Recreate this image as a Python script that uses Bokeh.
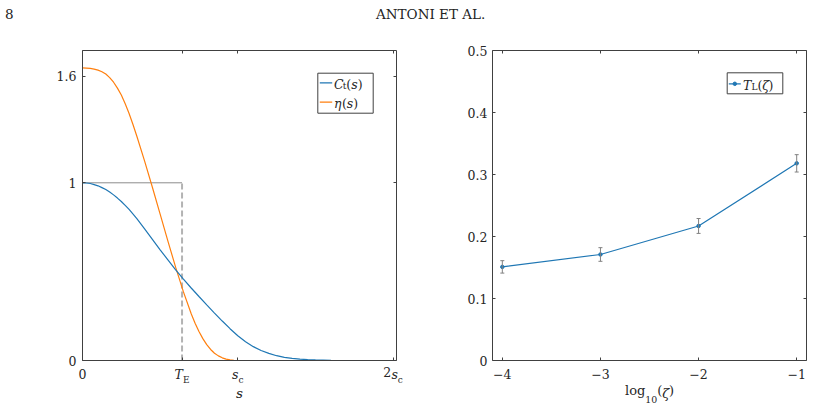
from bokeh.plotting import figure
from bokeh.models import (FixedTicker, LinearAxis, Range1d, Label, BoxAnnotation, Div,
                          ColumnDataSource, Whisker, TeeHead)
from bokeh.layouts import column, row
from bokeh.embed import file_html
from bokeh.resources import INLINE

# ---------------- data (left panel, s in units of s_c) ----------------
s_eta = [0.0, 0.05, 0.075, 0.1, 0.125, 0.15, 0.175, 0.2, 0.225, 0.25, 0.275, 0.3, 0.325,
         0.35, 0.4, 0.45, 0.5, 0.55, 0.6, 0.65, 0.7, 0.725, 0.75, 0.775, 0.8, 0.825, 0.85,
         0.875, 0.9, 0.925, 0.95, 0.975, 1.0, 1.5, 2.0]
eta = [1.647, 1.644, 1.640, 1.634, 1.625, 1.612, 1.592, 1.566, 1.533, 1.494, 1.445, 1.390,
       1.328, 1.262, 1.122, 0.975, 0.824, 0.672, 0.524, 0.386, 0.263, 0.210, 0.163, 0.123,
       0.089, 0.062, 0.041, 0.026, 0.015, 0.008, 0.004, 0.001, 0.0, 0.0, 0.0]
s_ct = [0.0, 0.025, 0.05, 0.075, 0.1, 0.125, 0.15, 0.175, 0.2, 0.225, 0.25, 0.275, 0.3,
        0.35, 0.4, 0.45, 0.5, 0.55, 0.6, 0.65, 0.7, 0.75, 0.8, 0.85, 0.9, 0.95, 1.0, 1.05,
        1.1, 1.15, 1.2, 1.25, 1.3, 1.35, 1.4, 1.45, 1.5, 1.6, 1.7, 1.8, 2.0]
ct = [1.000, 0.999, 0.996, 0.990, 0.983, 0.973, 0.962, 0.948, 0.932, 0.914, 0.895, 0.873,
      0.850, 0.798, 0.741, 0.682, 0.623, 0.566, 0.510, 0.458, 0.408, 0.360, 0.313, 0.267,
      0.222, 0.179, 0.139, 0.105, 0.078, 0.056, 0.040, 0.027, 0.018, 0.012, 0.008, 0.005,
      0.003, 0.001, 0.0, 0.0, 0.0]
T_E = 0.641          # integral time scale (in units of s_c)
left_yticks = [0, 1, 1.6]
left_xticks = [0, T_E, 1, 2]

# ---------------- data (right panel) ----------------
log_zeta = [-4, -3, -2, -1]
T_L = [0.151, 0.171, 0.217, 0.318]
T_L_err = [0.010, 0.011, 0.012, 0.014]
right_yticks = [0, 0.1, 0.2, 0.3, 0.4, 0.5]
right_xticks = [-4, -3, -2, -1]

# ---------------- style ----------------
FONT = "DejaVu Serif"
FS = 12.5
SUB = 9.0
TXT = "#262626"
AX = "#404040"
BLUE = "#1f77b4"
ORANGE = "#ff7f0e"
HEAD_H = 40
HK = 1.164            # label box height / font size (estimate)
AK = 0.80             # baseline below box top / font size (estimate)
SUBSHIFT = 1.5        # subscript baseline drop in tick labels (px)

WID = {'C': .70, 'T': .67, 's': .52, 'η': .63, 'ζ': .50, '(': .39, ')': .39, 't': .40,
       'E': .73, 'L': .67, 'c': .56, 'l': .32, 'o': .60, 'g': .64, '1': .64, '0': .64,
       '2': .64}


def ri(v):
    return int(round(v))


def text_width(t, size):
    return sum(WID.get(ch, .6) for ch in t) * size


def rich(p, x, y, pieces, size, dx=0.0):
    """in-frame rich text; pieces: (text, italic, scale, vertical shift px)"""
    off = dx
    for t, it, sc, v in pieces:
        p.add_layout(Label(x=x, y=y, x_offset=off, y_offset=v, text=t,
                           text_font=FONT, text_font_size=f"{size * sc:.1f}px",
                           text_font_style="italic" if it else "normal",
                           text_align="left", text_baseline="alphabetic",
                           text_color=TXT))
        off += text_width(t, size * sc)


def make_fig(width, height, xr, yr, bl, br, bt, bb):
    p = figure(width=width, height=height, x_range=Range1d(*xr), y_range=Range1d(*yr),
               output_backend="svg", toolbar_location=None,
               min_border_left=bl, min_border_right=br, min_border_top=bt,
               min_border_bottom=bb, x_axis_location=None, y_axis_location=None)
    p.grid.visible = False
    p.outline_line_color = None
    p.background_fill_color = "white"
    p.border_fill_color = "white"
    return p


def add_axis(p, side, ticks, overrides=None, standoff=5):
    ax = LinearAxis(ticker=FixedTicker(ticks=ticks, minor_ticks=[]))
    ax.major_tick_in = 3
    ax.major_tick_out = 0
    ax.minor_tick_in = 0
    ax.minor_tick_out = 0
    ax.axis_line_color = AX
    ax.axis_line_width = 1
    ax.major_tick_line_color = AX
    ax.major_label_text_font = FONT
    ax.major_label_text_font_size = f"{FS}px"
    ax.major_label_text_color = TXT
    ax.major_label_standoff = ri(standoff)
    if overrides is not None:
        ax.major_label_overrides = overrides
    p.add_layout(ax, side)
    return ax


def text_axis(p, ticks, labels, size, italic, standoff, axis_label=None,
              label_size=13.0, label_standoff=0):
    """an axis that only carries text (no line, no ticks), stacked below"""
    ax = LinearAxis(ticker=FixedTicker(ticks=ticks, minor_ticks=[]),
                    major_label_overrides=dict(zip(ticks, labels)))
    ax.axis_line_color = None
    ax.major_tick_line_color = None
    ax.minor_tick_line_color = None
    ax.major_tick_in = 0
    ax.major_tick_out = 0
    ax.minor_tick_in = 0
    ax.minor_tick_out = 0
    ax.major_label_text_font = FONT
    ax.major_label_text_font_size = f"{size:.1f}px"
    ax.major_label_text_font_style = "italic" if italic else "normal"
    ax.major_label_text_color = TXT
    ax.major_label_standoff = ri(standoff)
    if axis_label is not None:
        ax.axis_label = axis_label
        ax.axis_label_text_font = FONT
        ax.axis_label_text_font_size = f"{label_size:.1f}px"
        ax.axis_label_text_font_style = "italic"
        ax.axis_label_text_color = TXT
        ax.axis_label_standoff = ri(label_standoff)
    p.add_layout(ax, "below")
    return ax


def mirror_axes(p, xticks, yticks):
    add_axis(p, "right", yticks, {t: "" for t in yticks}, standoff=0)
    add_axis(p, "above", xticks, {t: "" for t in xticks}, standoff=-HK * FS)


top_main = 8.0       # standoff of the bottom tick labels

# ================= left panel =================
L_W, L_H = 430, 408 - HEAD_H
L_BL, L_BR, L_BT, L_BB = 82, 34, 10, 48
L_XR, L_YR = (0, 2.022), (0, 1.7445)
p1 = make_fig(L_W, L_H, L_XR, L_YR, L_BL, L_BR, L_BT, L_BB)
L_FW = L_W - L_BL - L_BR
L_FH = L_H - L_BT - L_BB
LDX = (L_XR[1] - L_XR[0]) / L_FW      # data units per pixel (x)

add_axis(p1, "left", left_yticks, {0: "0", 1: "1", 1.6: "1.6"}, standoff=6)
add_axis(p1, "below", left_xticks, {0: "0", T_E: "", 1: "", 2: ""}, standoff=top_main)
mirror_axes(p1, left_xticks, left_yticks)

h12, h9 = HK * FS, HK * SUB
top_sub = top_main + AK * FS + SUBSHIFT - AK * SUB
# upright "2" of 2s_c
text_axis(p1, [2 - 5.75 * LDX], ["2"], FS, False, -h12)
# italic T and s
text_axis(p1, [T_E - 3.3 * LDX, 1 - 2.5 * LDX, 2 + 1.5 * LDX], ["T", "s", "s"], FS, True,
          -h12)
# subscripts E, c, c  (+ axis label s)
text_axis(p1, [T_E + 4.2 * LDX, 1 + 3.25 * LDX, 2 + 2.75 * LDX], ["E", "c", "\u2003c"],
          SUB, False, top_sub - top_main - h12, axis_label="s", label_size=13.5,
          label_standoff=(31.0 - AK * 13.5) - (top_sub + h9))


def left_px(px, py):
    x = L_XR[0] + (px - L_BL) / L_FW * (L_XR[1] - L_XR[0])
    y = L_YR[0] + ((HEAD_H + L_BT + L_FH) - py) / L_FH * (L_YR[1] - L_YR[0])
    return x, y


# equal-area rectangle
p1.line([0, T_E], [1, 1], line_color="#8c8c8c", line_width=1)
p1.line([T_E, T_E], [0, 1], line_color="#b3b3b3", line_width=2, line_dash="6 3")
p1.line(s_eta, eta, line_color=ORANGE, line_width=1.2)
p1.line(s_ct, ct, line_color=BLUE, line_width=1.2)

# legend
bx0, by0 = left_px(317.3, 112.7)
bx1, by1 = left_px(372.7, 72.7)
p1.add_layout(BoxAnnotation(left=bx0, right=bx1, bottom=by0, top=by1, fill_color="white",
                            fill_alpha=1, line_color=AX, line_alpha=1, line_width=1,
                            level="underlay"))
for (yy, col) in [(82.3, BLUE), (101.7, ORANGE)]:
    xa, ya = left_px(319.3, yy)
    xb, _ = left_px(331.7, yy)
    p1.line([xa, xb], [ya, ya], line_color=col, line_width=1.2)
tx, ty = left_px(333.5, 83.5)
rich(p1, tx, ty, [("C", True, 1, 0), ("t", False, 0.72, -2), ("(", False, 1, 0),
                  ("s", True, 1, 0), (")", False, 1, 0)], FS)
tx, ty = left_px(333.5, 102.5)
rich(p1, tx, ty, [("η", True, 1, 0), ("(", False, 1, 0), ("s", True, 1, 0),
                  (")", False, 1, 0)], FS)

# ================= right panel =================
R_W, R_H = 813 - L_W, 408 - HEAD_H
R_BL, R_BR, R_BT, R_BB = 62, 7, 10, 48
R_XR, R_YR = (-4.1, -0.9), (0, 0.5)
p2 = make_fig(R_W, R_H, R_XR, R_YR, R_BL, R_BR, R_BT, R_BB)
R_FW = R_W - R_BL - R_BR
R_FH = R_H - R_BT - R_BB
RDX = (R_XR[1] - R_XR[0]) / R_FW

add_axis(p2, "left", right_yticks, {0: "0"})
add_axis(p2, "below", right_xticks,
         {-4: "\u22124", -3: "\u22123", -2: "\u22122", -1: "\u22121"}, standoff=top_main)
mirror_axes(p2, right_xticks, right_yticks)

# axis label  log10(zeta)  built from pieces
LS, LSUB = 13.0, 9.4
pieces = [("log", False, LS), ("10", False, LSUB), ("(", False, LS), ("ζ", True, LS),
          (")", False, LS)]
total = sum(text_width(t, s) for t, it, s in pieces)
cx = (R_XR[0] + R_XR[1]) / 2
pos, cur = [], -total / 2
for t, it, s in pieces:
    w = text_width(t, s)
    pos.append(cx + (cur + w / 2) * RDX)
    cur += w
h13, h94 = HK * LS, HK * LSUB
top13 = 34.0 - AK * LS
top94 = 38.0 - AK * LSUB
text_axis(p2, [pos[0], pos[2], pos[4]], ["log", "(", ")"], LS, False, top13 - top_main - h12)
text_axis(p2, [pos[3]], ["ζ"], LS, True, -h13)
text_axis(p2, [pos[1]], ["10"], LSUB, False, top94 - top13 - h13)


def right_px(px, py):
    x = R_XR[0] + (px - L_W - R_BL) / R_FW * (R_XR[1] - R_XR[0])
    y = R_YR[0] + ((HEAD_H + R_BT + R_FH) - py) / R_FH * (R_YR[1] - R_YR[0])
    return x, y


src = ColumnDataSource(dict(x=log_zeta, y=T_L,
                            lo=[a - b for a, b in zip(T_L, T_L_err)],
                            hi=[a + b for a, b in zip(T_L, T_L_err)]))
p2.add_layout(Whisker(source=src, base="x", lower="lo", upper="hi", line_color="#808080",
                      line_width=1,
                      lower_head=TeeHead(size=4, line_color="#808080", line_width=1),
                      upper_head=TeeHead(size=4, line_color="#808080", line_width=1),
                      level="glyph"))
p2.line("x", "y", source=src, line_color=BLUE, line_width=1.2)
p2.scatter("x", "y", source=src, size=3.5, color=BLUE)

bx0, by0 = right_px(726.7, 93.3)
bx1, by1 = right_px(782.3, 72.3)
p2.add_layout(BoxAnnotation(left=bx0, right=bx1, bottom=by0, top=by1, fill_color="white",
                            fill_alpha=1, line_color=AX, line_alpha=1, line_width=1,
                            level="underlay"))
xa, ya = right_px(728.3, 83.3)
xb, _ = right_px(740.3, 83.3)
xm, _ = right_px(734.3, 83.3)
p2.line([xa, xb], [ya, ya], line_color=BLUE, line_width=1.2)
p2.scatter([xm], [ya], size=3.5, color=BLUE)
tx, ty = right_px(742.5, 84.5)
rich(p2, tx, ty, [("T", True, 1, 0), ("L", False, 0.72, -2), ("(", False, 1, 0),
                  ("ζ", True, 1, 0), (")", False, 1, 0)], FS)

# ================= header =================
header = Div(text=(
    '<div style="position:relative;width:813px;height:40px;font-family:\'DejaVu Serif\';'
    'font-size:13.5px;color:#222;">'
    '<span style="position:absolute;left:5px;top:5px;">8</span>'
    '<span style="position:absolute;left:376px;top:5px;">ANTONI ET AL.</span></div>'),
    width=813, height=HEAD_H, margin=(0, 0, 0, 0))

layout = column(header, row(p1, p2, spacing=0), spacing=0)
open("out.html", "w").write(file_html(layout, INLINE))
